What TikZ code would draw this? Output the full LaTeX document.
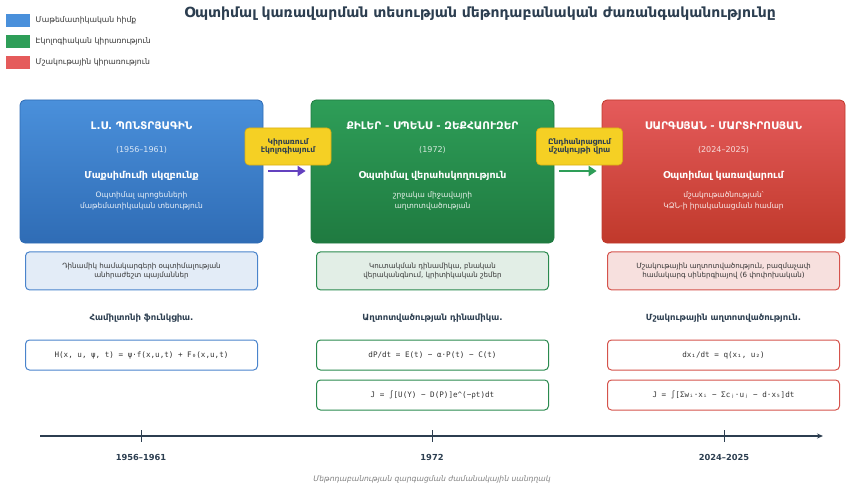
\documentclass[tikz,border=0pt]{standalone}
\usepackage{fontspec}
\setmainfont{DejaVu Sans}
\setmonofont{DejaVu Sans Mono}
\usetikzlibrary{positioning,arrows.meta}

\definecolor{ink}{HTML}{2C3E50}
\definecolor{txt}{HTML}{333333}
\definecolor{blueT}{HTML}{4A90DB}
\definecolor{blueB}{HTML}{2F6CB5}
\definecolor{blueM}{HTML}{4A84CC}
\definecolor{blueL}{HTML}{E3ECF7}
\definecolor{greenT}{HTML}{2E9E58}
\definecolor{greenB}{HTML}{1F7A40}
\definecolor{greenM}{HTML}{2A8A4E}
\definecolor{greenL}{HTML}{E2EEE6}
\definecolor{redT}{HTML}{E55B5B}
\definecolor{redB}{HTML}{C0392B}
\definecolor{redM}{HTML}{D5534C}
\definecolor{redL}{HTML}{F7E0DE}
\definecolor{yel}{HTML}{F5D024}
\definecolor{yelD}{HTML}{D9AE12}
\definecolor{purp}{HTML}{6341BF}

\begin{document}
\begin{tikzpicture}[x=1pt,y=-1pt,
		era/.style={rounded corners=5pt,minimum width=243pt,minimum height=143pt,inner sep=0pt,draw=#1B,line width=0.8pt,top color=#1T,bottom color=#1B},
		who/.style={text=white,font=\fontsize{10.5}{12}\bfseries\selectfont},
		yr/.style={text=white,opacity=0.8,font=\fontsize{8}{10}\selectfont},
		what/.style={text=white,font=\fontsize{9.5}{11}\bfseries\selectfont},
		about/.style={text=white,opacity=0.9,align=center,font=\fontsize{7.5}{11.5}\selectfont},
		note/.style={rounded corners=4pt,minimum width=232pt,minimum height=38pt,inner sep=0pt,draw=#1M,line width=1pt,fill=#1L,text=txt,align=center,font=\fontsize{7.1}{9.5}\selectfont},
		head/.style={text=ink,font=\fontsize{8.5}{10}\bfseries\selectfont},
		eq/.style={rounded corners=4pt,minimum width=232pt,minimum height=30pt,inner sep=0pt,draw=#1M,line width=1pt,fill=white,text=txt,font=\fontsize{7.6}{9}\ttfamily},
		tag/.style={rounded corners=4pt,minimum width=86pt,minimum height=37pt,inner sep=0pt,draw=yelD,line width=0.6pt,fill=yel,text=ink,align=center,font=\fontsize{7.6}{8.5}\bfseries\selectfont},
		flow/.style={line width=2.8pt,draw=#1,shorten <=5pt,shorten >=5pt,-{Triangle[length=8pt,width=10pt]}},
		key/.style={minimum width=24pt,minimum height=13pt,inner sep=0pt,fill=#1},
		keytext/.style={text=txt,font=\fontsize{7.7}{9}\selectfont,anchor=west}]
	\useasboundingbox (0,0) rectangle (848,484);

	% legend and title
	\node[key=blueT]	(k1)	at (18,20.5) {};
	\node[key=greenT]	(k2)	at (18,41.5) {};
	\node[key=redT]		(k3)	at (18,62.5) {};
	\node[keytext,right=2pt of k1]	(k1t)	{Մաթեմատիկական հիմք};
	\node[keytext,right=2pt of k2]	(k2t)	{Էկոլոգիական կիրառություն};
	\node[keytext,right=2pt of k3]	(k3t)	{Մշակութային կիրառություն};
	\node[text=ink,font=\fontsize{14}{16}\bfseries\selectfont] (title) at (480,14) {Օպտիմալ կառավարման տեսության մեթոդաբանական ժառանգականությունը};

	% the three stages
	\node[era=blue]		(b1)	at (141.5,171.5) {};
	\node[era=green]	(b2)	at (432.5,171.5) {};
	\node[era=red]		(b3)	at (723.5,171.5) {};

	\node[who]	(b1n)	at (141.5,126) {Լ.Ս. ՊՈՆՏՐՅԱԳԻՆ};
	\node[yr]	(b1y)	at (141.5,150) {(1956–1961)};
	\node[what]	(b1w)	at (141.5,176) {Մաքսիմումի սկզբունք};
	\node[about]	(b1a)	at (141.5,201) {Օպտիմալ պրոցեսների\\մաթեմատիկական տեսություն};

	\node[who]	(b2n)	at (432.5,126) {ՔԻԼԵՐ - ՍՊԵՆՍ - ԶԵՔՀԱՈՒԶԵՐ};
	\node[yr]	(b2y)	at (432.5,150) {(1972)};
	\node[what]	(b2w)	at (432.5,176) {Օպտիմալ վերահսկողություն};
	\node[about]	(b2a)	at (432.5,201) {շրջակա միջավայրի\\աղտոտվածության};

	\node[who]	(b3n)	at (723.5,126) {ՍԱՐԳՍՅԱՆ - ՄԱՐՏԻՐՈՍՅԱՆ};
	\node[yr]	(b3y)	at (723.5,150) {(2024–2025)};
	\node[what]	(b3w)	at (723.5,176) {Օպտիմալ կառավարում};
	\node[about]	(b3a)	at (723.5,201) {մշակութածնության՝\\ԿՁՆ-ի իրականացման համար};

	% links between stages
	\node[tag]	(t1)	at (288,146.5) {Կիրառում\\էկոլոգիայում};
	\node[tag]	(t2)	at (579.5,146.5) {Ընդհանրացում\\մշակույթի վրա};
	\draw[flow=purp]	(b1.east |- 0,171) -- (b2.west |- 0,171);
	\draw[flow=greenT]	(b2.east |- 0,171) -- (b3.west |- 0,171);

	% details
	\node[note=blue,below=8pt of b1]	(n1)	{Դինամիկ համակարգերի օպտիմալության\\անհրաժեշտ պայմաններ};
	\node[note=green,below=8pt of b2]	(n2)	{Կուտակման դինամիկա, բնական\\վերականգնում, կրիտիկական շեմեր};
	\node[note=red,below=8pt of b3]		(n3)	{Մշակութային աղտոտվածություն, բազմաչափ\\համակարգ սիներգիայով (6 փոփոխական)};

	\node[head]	(h1)	at (141.5,318) {Համիլտոնի ֆունկցիա.};
	\node[head]	(h2)	at (432.5,318) {Աղտոտվածության դինամիկա.};
	\node[head]	(h3)	at (723.5,318) {Մշակութային աղտոտվածություն.};

	\node[eq=blue]	(e1)	at (141.5,355) {H(x, u, ψ, t) = ψ·f(x,u,t) + F₀(x,u,t)};
	\node[eq=green]	(e2)	at (432.5,355) {dP/dt = E(t) − α·P(t) − C(t)};
	\node[eq=green,below=9pt of e2]	(e3)	{J = ∫[U(Y) − D(P)]e\^{}(−ρt)dt};
	\node[eq=red]	(e4)	at (723.5,355) {dx₁/dt = q(x₁, u₂)};
	\node[eq=red,below=9pt of e4]	(e5)	{J = ∫[Σwᵢ·xᵢ − Σcⱼ·uⱼ − d·x₅]dt};

	% timeline
	\coordinate (tl0) at (40,436);
	\coordinate (tl1) at (823,436);
	\draw[ink,line width=1.2pt,-{Stealth[length=6pt,width=5pt]}] (tl0) -- (tl1);
	\foreach \x/\lab [count=\i] in {141/1956–1961,432/1972,724/2024–2025} {
		\draw[ink,line width=1pt] (\x,430) -- (\x,442);
		\node[text=ink,font=\fontsize{8.3}{10}\bfseries\selectfont] (y\i) at (\x,457) {\lab};
	}
	\node[text=gray,font=\fontsize{7.6}{9}\itshape] (cap) at (432,479) {Մեթոդաբանության զարգացման ժամանակային սանդղակ};
\end{tikzpicture}
\end{document}
